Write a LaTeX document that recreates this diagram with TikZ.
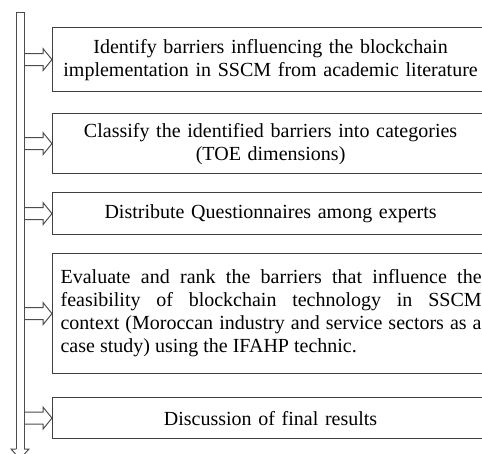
\documentclass[tikz,border=0pt]{standalone}
\usepackage{fontspec}
\setmainfont{Liberation Serif}
\usetikzlibrary{calc}
\begin{document}
\begin{tikzpicture}[x=0.5pt,y=-0.5pt,
  stepbox/.style={draw=black!75, line width=0.6pt, rectangle, anchor=north west,
    minimum width=218pt, inner xsep=3pt, inner ysep=0pt, text width=212pt,
    align=center, font=\fontsize{10}{11.5}\selectfont},
  flowline/.style={draw=black!70, line width=0.5pt, line join=miter}]
\path[use as bounding box] (0,0) rectangle (482,454);
\clip (0,0) rectangle (482,454);

\node[stepbox, minimum height=32pt] (b1) at (52,27)
  {Identify barriers influencing the blockchain\\implementation in SSCM from academic literature};
\node[stepbox, minimum height=30pt] (b2) at (52,113)
  {Classify the identified barriers into categories\\(TOE dimensions)};
\node[stepbox, minimum height=21pt] (b3) at (52,192)
  {Distribute Questionnaires among experts};
\node[stepbox, minimum height=60pt, text width=210.5pt, inner xsep=4pt, align=justify] (b4) at (52,253)
  {Evaluate and rank the barriers that influence the\linebreak feasibility of blockchain technology in SSCM\linebreak context (Moroccan industry and service sectors as a\linebreak case study) using the IFAHP technic.};
\node[stepbox, minimum height=20.5pt] (b5) at (52,397)
  {Discussion of final results};

% spine
\coordinate (top) at (20,13);
\coordinate (tip) at (20,459);
\draw[flowline] ($(tip)+(-4,-10)$) -- ($(top)+(-4,0)$) -- ($(top)+(4,0)$) -- ($(tip)+(4,-10)$);
\draw[flowline] ($(tip)+(-4,-10)$) -- ($(tip)+(-9,-10)$) -- (tip) -- ($(tip)+(9,-10)$) -- ($(tip)+(4,-10)$);

% block arrows
\foreach \b in {b1,b2,b3,b4,b5}{
  \draw[flowline] ($(\b.west)+(-28,-6)$) -- ($(\b.west)+(-9,-6)$) -- ($(\b.west)+(-9,-11)$)
    -- (\b.west) -- ($(\b.west)+(-9,11)$) -- ($(\b.west)+(-9,6)$) -- ($(\b.west)+(-28,6)$);
}
\end{tikzpicture}
\end{document}
